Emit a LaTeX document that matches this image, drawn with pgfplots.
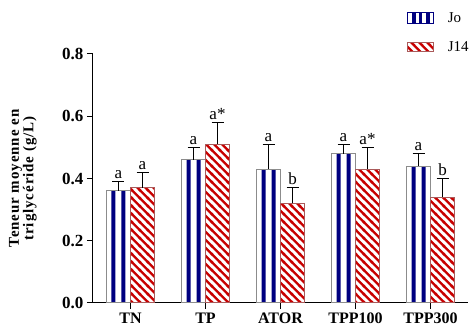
\documentclass[border=0pt]{standalone}
\usepackage{pgfplots}
\pgfplotsset{compat=1.18}
\usepackage{pgfplotstable}
\usepackage{fontspec}
\setmainfont{Liberation Serif}
\usetikzlibrary{patterns}
\definecolor{navyb}{RGB}{0,0,128}
\definecolor{redst}{RGB}{200,0,0}
\definecolor{redbd}{RGB}{170,90,90}
\definecolor{grbd}{RGB}{140,140,140}
\pgfdeclarepatternformonly{diag}{\pgfqpoint{0pt}{0pt}}{\pgfqpoint{8.3pt}{8.3pt}}{\pgfqpoint{8.3pt}{8.3pt}}{%
  \pgfsetlinewidth{2.4pt}%
  \pgfpathmoveto{\pgfqpoint{-1pt}{1pt}}\pgfpathlineto{\pgfqpoint{1pt}{-1pt}}%
  \pgfpathmoveto{\pgfqpoint{-1pt}{9.3pt}}\pgfpathlineto{\pgfqpoint{9.3pt}{-1pt}}%
  \pgfpathmoveto{\pgfqpoint{7.3pt}{9.3pt}}\pgfpathlineto{\pgfqpoint{9.3pt}{7.3pt}}%
  \pgfusepath{stroke}}

\pgfplotstableread{
x jo joe joL j14 j14e j14L
0 0.36 0.03 a 0.37 0.05 a
1 0.46 0.04 a 0.51 0.07 a*
2 0.43 0.08 a 0.32 0.05 b
3 0.48 0.03 a 0.43 0.07 a*
4 0.44 0.04 a 0.34 0.06 b
}\data

\begin{document}
\begin{tikzpicture}
\begin{axis}[
  name=ax, scale only axis, width=375pt, height=249pt,
  xmin=-0.5, xmax=4.5, ymin=0, ymax=0.8,
  axis x line*=bottom, axis y line*=left,
  axis line style={-, line width=1pt},
  xtick={0,1,2,3,4}, xticklabels={TN,TP,ATOR,TPP100,TPP300},
  ytick={0,0.2,0.4,0.6,0.8},
  tick align=outside, major tick length=6pt,
  tick style={black, line width=1pt},
  yticklabel style={font=\fontsize{17}{17}\selectfont\bfseries,
    /pgf/number format/.cd, fixed, fixed zerofill, precision=1, assume math mode=true},
  xticklabel style={font=\fontsize{16}{16}\selectfont\bfseries},
  ylabel={Teneur moyenne en\\triglycéride (g/L)},
  ylabel style={at={(axis description cs:-0.187,0.5)}, anchor=center, align=center,
    font=\fontsize{15}{13}\selectfont\bfseries\addfontfeature{LetterSpace=6}},
  clip=false,
  legend style={at={(axis description cs:0.837,1.173)}, anchor=north west,
    draw=none, fill=none, inner sep=0pt, row sep=15pt,
    font=\fontsize{15}{15}\selectfont,
    nodes={inner sep=0pt, text height=11pt, text depth=3pt},
    /tikz/every odd column/.append style={column sep=14pt}},
  legend cell align=left,
]
% Jo bars
\addplot[ybar, bar width=24pt, bar shift=0pt, fill=white, draw=none, forget plot]
  table[x expr=\thisrow{x}-0.16, y=jo] {\data};
\addplot[ybar, bar width=4pt, bar shift=-5pt, fill=navyb, draw=none, forget plot]
  table[x expr=\thisrow{x}-0.16, y=jo] {\data};
\addplot[ybar, bar width=4pt, bar shift=5pt, fill=navyb, draw=none, forget plot]
  table[x expr=\thisrow{x}-0.16, y=jo] {\data};
\addplot[ybar, bar width=24pt, bar shift=0pt, fill=none, draw=grbd, line width=1pt, forget plot,
  error bars/.cd, y dir=plus, y explicit,
  error bar style={black, line width=1pt},
  error mark options={rotate=90, mark size=6pt, line width=1pt, black}]
  table[x expr=\thisrow{x}-0.16, y=jo, y error=joe] {\data};
% J14 bars
\addplot[ybar, bar width=24pt, bar shift=0pt, preaction={fill=white},
  pattern=diag, pattern color=redst, draw=redbd, line width=1pt, forget plot,
  error bars/.cd, y dir=plus, y explicit,
  error bar style={black, line width=1pt},
  error mark options={rotate=90, mark size=6pt, line width=1pt, black}]
  table[x expr=\thisrow{x}+0.16, y=j14, y error=j14e] {\data};
% letters
\addplot[ybar, bar width=24pt, bar shift=0pt, draw=none, fill=none, forget plot,
  nodes near coords, point meta=explicit symbolic,
  nodes near coords style={font=\fontsize{17}{17}\selectfont, inner sep=2.5pt, black}]
  table[x expr=\thisrow{x}-0.16, y expr=\thisrow{jo}+\thisrow{joe}, meta=joL] {\data};
\addplot[ybar, bar width=24pt, bar shift=0pt, draw=none, fill=none, forget plot,
  nodes near coords, point meta=explicit symbolic,
  nodes near coords style={font=\fontsize{17}{17}\selectfont, inner sep=2.5pt, black}]
  table[x expr=\thisrow{x}+0.16, y expr=\thisrow{j14}+\thisrow{j14e}, meta=j14L] {\data};
% legend
\addlegendimage{legend image code/.code={
  \draw[draw=navyb, line width=0.8pt, fill=white] (0pt,-5.5pt) rectangle (26pt,5.5pt);
  \fill[navyb] (5pt,-5.5pt) rectangle (7.5pt,5.5pt);
  \fill[navyb] (11.5pt,-5.5pt) rectangle (14pt,5.5pt);
  \fill[navyb] (19pt,-5.5pt) rectangle (21.5pt,5.5pt);
  \draw[draw=navyb, line width=0.8pt] (0pt,-5.5pt) rectangle (26pt,5.5pt);}}
\addlegendentry{Jo}
\addlegendimage{legend image code/.code={
  \fill[white] (0pt,-4.5pt) rectangle (26pt,4.5pt);
  \draw[draw=redbd, line width=0.8pt, pattern=diag, pattern color=redst] (0pt,-4.5pt) rectangle (26pt,4.5pt);}}
\addlegendentry{J14}
\end{axis}
\pgfresetboundingbox
\path ([xshift=-93pt,yshift=-23pt]ax.south west) rectangle ([xshift=6pt,yshift=54pt]ax.north east);
\end{tikzpicture}
\end{document}
